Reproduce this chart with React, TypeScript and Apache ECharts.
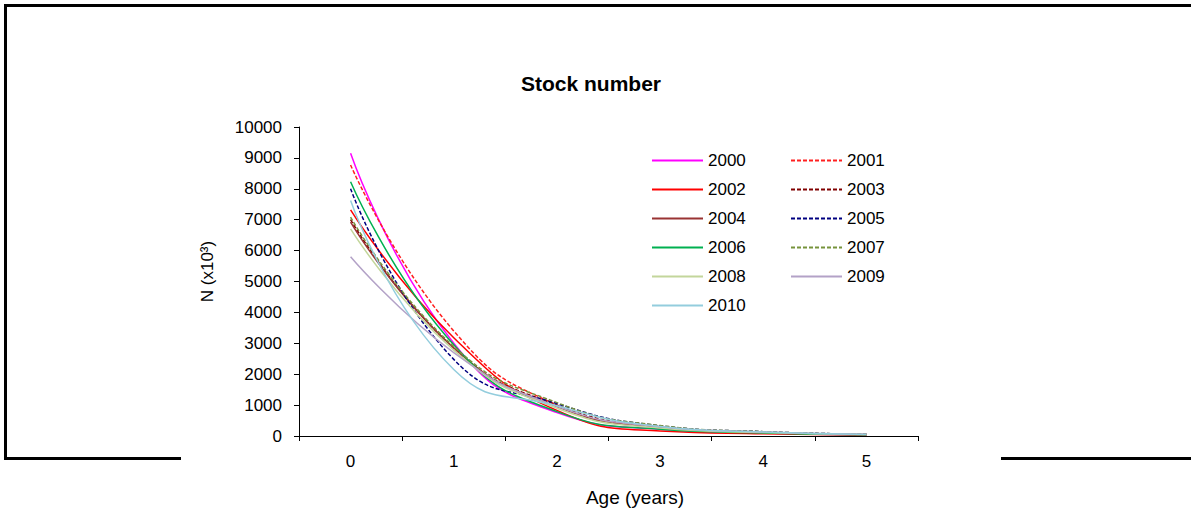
import React, { useEffect, useRef } from "react";
import * as echarts from "echarts";

const ages = ["0", "1", "2", "3", "4", "5"];
const yTicks = [0, 1000, 2000, 3000, 4000, 5000, 6000, 7000, 8000, 9000, 10000];

const years = ["2000", "2001", "2002", "2003", "2004", "2005", "2006", "2007", "2008", "2009", "2010"];

const n2000 = [9150, 3000, 760, 220, 100, 40];
const n2001 = [8770, 3400, 1000, 300, 120, 50];
const n2002 = [7320, 3180, 830, 160, 70, 30];
const n2003 = [7000, 2850, 1000, 310, 130, 50];
const n2004 = [6920, 2850, 950, 270, 110, 40];
const n2005 = [8000, 2480, 1050, 330, 140, 60];
const n2006 = [8230, 2950, 790, 220, 100, 40];
const n2007 = [7080, 2900, 1080, 340, 140, 60];
const n2008 = [6700, 2780, 900, 260, 110, 50];
const n2009 = [5800, 2700, 960, 300, 130, 60];
const n2010 = [7620, 2150, 980, 310, 130, 50];

const seriesValues = [n2000, n2001, n2002, n2003, n2004, n2005, n2006, n2007, n2008, n2009, n2010];
const colors = ["#FF00FF", "#FF2020", "#FF0000", "#800000", "#993333", "#000080", "#00B050", "#77933C", "#C3D69B", "#B3A2C7", "#93CDDD"];
const dashed = [false, true, false, true, false, true, false, true, false, false, false];

const FONT = "'Liberation Sans', Arial, sans-serif";

export default function App() {
  const ref = useRef<HTMLDivElement>(null);
  useEffect(() => {
    if (!ref.current) return;
    const chart = echarts.init(ref.current, undefined, { renderer: "svg" });
    const series = years.map((y, i) => ({
      name: y,
      type: "line",
      data: seriesValues[i],
      smooth: 0.5,
      symbol: "none",
      showSymbol: false,
      lineStyle: { color: colors[i], width: 1.5, type: dashed[i] ? [4, 2] : "solid" },
      itemStyle: { color: colors[i] },
    }));
    const legendCommon = {
      orient: "vertical",
      top: 147,
      itemWidth: 51,
      itemHeight: 17,
      itemGap: 12,
      itemStyle: { opacity: 0 },
      textStyle: { fontSize: 17, color: "#000", fontFamily: FONT },
    };
    chart.setOption({
      animation: false,
      backgroundColor: "#fff",
      title: {
        text: "Stock number",
        left: 516,
        top: 68,
        textStyle: { fontSize: 21, fontWeight: "bold", color: "#000", fontFamily: FONT },
      },
      legend: [
        { ...legendCommon, left: 646, data: years.filter((_, i) => i % 2 === 0) },
        { ...legendCommon, left: 785, data: years.filter((_, i) => i % 2 === 1) },
      ],
      grid: { left: 299, right: 273, top: 127, bottom: 79, containLabel: false },
      xAxis: {
        type: "category",
        data: ages,
        boundaryGap: true,
        name: "Age (years)",
        nameLocation: "middle",
        nameGap: 52,
        nameTextStyle: { fontSize: 19, color: "#000", fontFamily: FONT, padding: [0, 0, 0, 53] },
        axisLine: { lineStyle: { color: "#000", width: 1 } },
        axisTick: { show: true, interval: 0, length: 5, lineStyle: { color: "#000" } },
        axisLabel: { fontSize: 17, color: "#000", fontFamily: FONT, margin: 17 },
        splitLine: { show: false },
      },
      yAxis: {
        type: "value",
        min: yTicks[0],
        max: yTicks[yTicks.length - 1],
        interval: 1000,
        name: "N (x10³)",
        nameLocation: "middle",
        nameGap: 83,
        nameRotate: 90,
        nameTextStyle: { fontSize: 17, color: "#000", fontFamily: FONT, padding: [0, 0, 0, 20] },
        axisLine: { show: true, lineStyle: { color: "#000", width: 1 } },
        axisTick: { show: true, length: 5, lineStyle: { color: "#000" } },
        axisLabel: { fontSize: 17, color: "#000", fontFamily: FONT, margin: 17, formatter: (v: number) => String(v) },
        splitLine: { show: false },
      },
      graphic: [
        { type: "line", shape: { x1: 4, y1: 5.5, x2: 1191, y2: 5.5 }, style: { stroke: "#000", lineWidth: 3 } },
        { type: "line", shape: { x1: 5.5, y1: 4, x2: 5.5, y2: 460 }, style: { stroke: "#000", lineWidth: 3 } },
        { type: "line", shape: { x1: 4, y1: 458.5, x2: 181, y2: 458.5 }, style: { stroke: "#000", lineWidth: 3 } },
        { type: "line", shape: { x1: 1001, y1: 458.5, x2: 1191, y2: 458.5 }, style: { stroke: "#000", lineWidth: 3 } },
      ],
      series,
    });
    return () => chart.dispose();
  }, []);
  return <div ref={ref} style={{ position: "fixed", left: 0, top: 0, width: 1191, height: 515 }} />;
}
